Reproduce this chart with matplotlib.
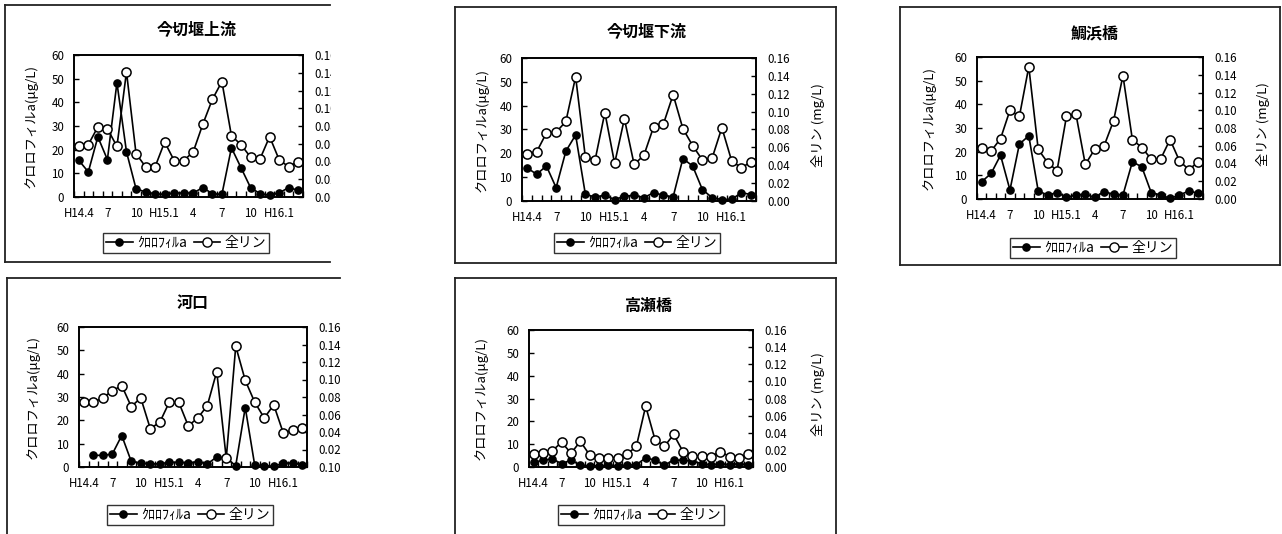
import numpy as np
import matplotlib
matplotlib.use("Agg")
import matplotlib.pyplot as plt
from matplotlib.lines import Line2D
from matplotlib.patches import Rectangle
from matplotlib.ticker import FixedLocator, FixedFormatter

plt.rcParams['font.family'] = ['Noto Sans CJK JP', 'DejaVu Sans']

# ---------------- data ----------------
tick_labels = ["H14.4", "7", "10", "H15.1", "4", "7", "10", "H16.1"]
n_months = 24

titles = ["今切堰上流", "今切堰下流", "鯛浜橋", "河口", "高瀬橋"]

chl_kamikawa = [15.5, 10.6, 25.4, 15.8, 48.3, 19.1, 3.5, 2.1, 1.4, 1.1, 1.7, 1.7,
                1.7, 4.0, 1.4, 1.1, 20.8, 12.4, 4.0, 1.4, 0.8, 1.7, 4.0, 2.8]
tp_kamikawa = [0.057, 0.059, 0.079, 0.077, 0.057, 0.141, 0.049, 0.034, 0.034, 0.062, 0.041, 0.041,
               0.051, 0.082, 0.110, 0.130, 0.069, 0.059, 0.045, 0.043, 0.068, 0.042, 0.034, 0.040]

chl_shimokawa = [14.0, 11.2, 14.7, 5.6, 20.9, 27.7, 2.8, 1.7, 2.4, 0.6, 2.0, 2.4,
                 1.4, 3.5, 2.4, 1.7, 17.8, 14.7, 4.8, 1.4, 0.6, 0.7, 3.5, 2.7]
tp_shimokawa = [0.053, 0.055, 0.076, 0.077, 0.089, 0.139, 0.049, 0.046, 0.099, 0.042, 0.092, 0.041,
                0.051, 0.083, 0.086, 0.119, 0.081, 0.062, 0.046, 0.048, 0.082, 0.045, 0.037, 0.044]

chl_taihama = [7.3, 10.8, 18.5, 3.8, 23.2, 26.7, 3.4, 1.7, 2.7, 0.7, 1.7, 2.0,
               0.7, 3.1, 2.0, 1.7, 15.7, 13.6, 2.7, 1.7, 0.3, 1.7, 3.4, 2.4]
tp_taihama = [0.058, 0.054, 0.068, 0.100, 0.093, 0.149, 0.056, 0.041, 0.032, 0.093, 0.096, 0.039,
              0.056, 0.060, 0.088, 0.139, 0.067, 0.058, 0.045, 0.045, 0.067, 0.043, 0.033, 0.042]

chl_kakou = [np.nan, 5.0, 5.0, 5.5, 13.5, 2.4, 1.7, 1.3, 1.4, 2.0, 2.0, 1.7,
             2.3, 1.3, 4.3, 3.8, 0.6, 25.5, 0.7, 0.6, 0.3, 1.7, 1.7, 1.0]
tp_kakou = [0.074, 0.074, 0.079, 0.087, 0.093, 0.069, 0.079, 0.044, 0.051, 0.074, 0.074, 0.047,
            0.056, 0.070, 0.109, 0.010, 0.138, 0.099, 0.074, 0.056, 0.071, 0.039, 0.042, 0.045]

chl_takase = [2.0, 3.0, 3.5, 1.5, 3.0, 0.8, 0.5, 0.5, 0.8, 0.5, 0.8, 1.0,
              4.0, 3.0, 0.8, 3.0, 3.0, 2.5, 1.5, 1.0, 1.5, 1.0, 1.5, 0.8]
tp_takase = [0.015, 0.016, 0.019, 0.029, 0.016, 0.030, 0.014, 0.010, 0.011, 0.011, 0.015, 0.024,
             0.071, 0.032, 0.024, 0.038, 0.018, 0.013, 0.013, 0.012, 0.018, 0.012, 0.011, 0.015]

chl_series = [chl_kamikawa, chl_shimokawa, chl_taihama, chl_kakou, chl_takase]
tp_series = [tp_kamikawa, tp_shimokawa, tp_taihama, tp_kakou, tp_takase]

left_ticks = [0, 10, 20, 30, 40, 50, 60]
right_ticks = [0.00, 0.02, 0.04, 0.06, 0.08, 0.10, 0.12, 0.14, 0.16]
right_labels = ["0.00", "0.02", "0.04", "0.06", "0.08", "0.10", "0.12", "0.14", "0.16"]
right_labels_kakou = ["0.10", "0.02", "0.04", "0.06", "0.08", "0.10", "0.12", "0.14", "0.16"]

legend_labels = ["ｸﾛﾛﾌｨﾙa", "全リン"]
ylabel_left = "クロロフィルa(μg/L)"
ylabel_right = "全リン (mg/L)"

# ---------------- layout (pixels) ----------------
W, H = 1282, 534
fig = plt.figure(figsize=(W / 100, H / 100), dpi=100)
fig.patch.set_facecolor("white")


def frect(l, t, r, b):
    return [l / W, 1 - b / H, (r - l) / W, (b - t) / H]


def fx(x):
    return x / W


def fy(y):
    return 1 - y / H


panels = [
    dict(ax=(74, 55, 303, 197), title=(197, 29), ylx=31, yrx=None, leg=(186, 243), rlab=right_labels),
    dict(ax=(522, 58, 756, 201), title=(647, 31), ylx=482, yrx=818, leg=(637, 243), rlab=right_labels),
    dict(ax=(977, 57, 1203, 199), title=(1095, 33), ylx=929, yrx=1263, leg=(1093, 248), rlab=right_labels),
    dict(ax=(79, 327, 307, 467), title=(193, 303), ylx=33, yrx=None, leg=(190, 515), rlab=right_labels_kakou),
    dict(ax=(529, 330, 753, 467), title=(648, 306), ylx=481, yrx=818, leg=(641, 515), rlab=right_labels),
]

x = np.arange(n_months)
tick_pos = np.arange(0, n_months, 3)
fs = 8.3

for i, p in enumerate(panels):
    l, t, r, b = p["ax"]
    ax = fig.add_axes(frect(l, t, r, b))
    ax2 = ax.twinx()
    ax.set_zorder(1)
    ax2.set_zorder(2)
    ax.patch.set_visible(False)
    ax2.patch.set_visible(False)

    ax.plot(x, chl_series[i], color="black", lw=1.2, marker="o", ms=5.2,
            mfc="black", mec="black", clip_on=False)
    ax2.plot(x, tp_series[i], color="black", lw=1.2, marker="o", ms=6.6,
             mfc="white", mec="black", mew=1.1, clip_on=False)

    ax.set_xlim(-0.5, n_months - 0.5)
    ax.set_ylim(0, 60)
    ax2.set_ylim(0, 0.16)

    ax.set_xticks(tick_pos)
    ax.set_xticklabels(tick_labels, fontsize=fs)
    ax.set_xticks(np.arange(-0.5, n_months, 1), minor=True)
    ax.tick_params(axis="x", which="major", length=0, pad=7.5)
    ax.tick_params(axis="x", which="minor", direction="in", length=4, width=1)

    ax.set_yticks(left_ticks)
    ax.tick_params(axis="y", direction="in", length=3.5, width=1, labelsize=fs, pad=7)

    ax2.yaxis.set_major_locator(FixedLocator(right_ticks))
    ax2.yaxis.set_major_formatter(FixedFormatter(p["rlab"]))
    ax2.tick_params(axis="y", direction="in", length=3.5, width=1, labelsize=fs, pad=8.5)

    for a in (ax, ax2):
        for s in a.spines.values():
            s.set_linewidth(1.2)
            s.set_color("black")

    fig.text(fx(p["title"][0]), fy(p["title"][1]), titles[i], ha="center", va="center",
             fontsize=11.5, fontweight="bold")
    fig.text(fx(p["ylx"]), fy((t + b) / 2), ylabel_left, rotation=90, ha="center",
             va="center", fontsize=9.5)
    if p["yrx"] is not None:
        fig.text(fx(p["yrx"]), fy((t + b) / 2 - 4), ylabel_right, rotation=90, ha="center",
                 va="center", fontsize=9.5)

    handles = [
        Line2D([], [], color="black", lw=1.2, marker="o", ms=5.2, mfc="black", mec="black"),
        Line2D([], [], color="black", lw=1.2, marker="o", ms=6.6, mfc="white", mec="black"),
    ]
    leg = fig.legend(handles, legend_labels, loc="center",
                     bbox_to_anchor=(fx(p["leg"][0]), fy(p["leg"][1])),
                     ncol=2, fontsize=10, frameon=True, fancybox=False,
                     edgecolor="black", handlelength=1.9, handletextpad=0.3,
                     columnspacing=0.5, borderpad=0.22, borderaxespad=0)
    leg.get_frame().set_linewidth(1.0)

# crop the left column like the reference
fig.add_artist(Rectangle((fx(331), fy(270)), fx(452) - fx(331), fy(0) - fy(270),
                         transform=fig.transFigure, facecolor="white", edgecolor="none", zorder=10))
fig.add_artist(Rectangle((fx(342), fy(534)), fx(452) - fx(342), fy(270) - fy(534),
                         transform=fig.transFigure, facecolor="white", edgecolor="none", zorder=10))


def hline(x0, x1, y, lw=1.3):
    fig.add_artist(Line2D([fx(x0), fx(x1)], [fy(y), fy(y)], transform=fig.transFigure,
                          color="#222222", lw=lw, zorder=11))


def vline(xp, y0, y1, lw=1.3):
    fig.add_artist(Line2D([fx(xp), fx(xp)], [fy(y0), fy(y1)], transform=fig.transFigure,
                          color="#222222", lw=lw, zorder=11))

# panel 1
hline(5, 330, 5); hline(5, 330, 262); vline(5, 5, 262)
# panel 2
hline(455, 836, 7); hline(455, 836, 263); vline(455, 7, 263); vline(836, 7, 263)
# panel 3
hline(900, 1280, 7); hline(900, 1280, 265); vline(900, 7, 265); vline(1280, 7, 265)
# panel 4
hline(7, 340, 278); vline(7, 278, 534)
# panel 5
hline(455, 836, 278); vline(455, 278, 534); vline(836, 278, 534)

fig.savefig("out.png", dpi=100, facecolor="white")
